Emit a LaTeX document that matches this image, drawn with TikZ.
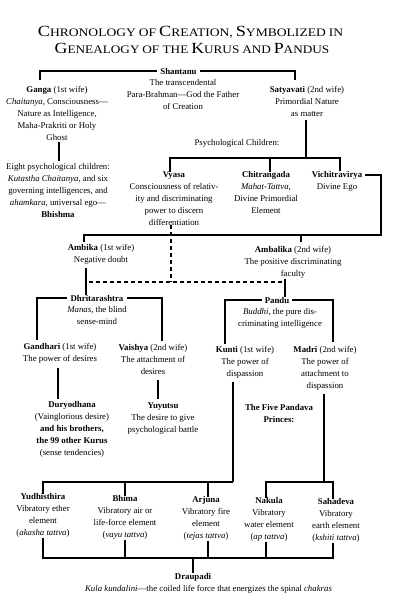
\documentclass[tikz,border=0pt]{standalone}
\usepackage{fontspec}
\setmainfont{Liberation Serif}
\usepackage{graphicx}
\newcommand\bigsc[2]{{\fontsize{15.5}{16}\selectfont #1}{\fontsize{11.5}{12}\selectfont #2}}
\newcommand\smsc[1]{{\fontsize{11.5}{12}\selectfont #1}}
\begin{document}
\begin{tikzpicture}[x=1pt,y=-1pt,
  txt/.style={align=center,inner sep=0pt,anchor=north,font=\fontsize{8.8}{11.9}\selectfont},
  nm/.style={inner xsep=3pt,inner ysep=0pt,anchor=center,font=\fontsize{8.8}{11.9}\selectfont\bfseries},
  ln/.style={line width=1.1pt},
  thk/.style={line width=2pt},
  dsh/.style={line width=1.1pt,dash pattern=on 4pt off 3pt}]
\useasboundingbox[fill=white] (0,0) rectangle (411,600);
% title
\node[inner sep=0pt] (title1) at (190.5,32) {\scalebox{1.18}[1]{\bigsc{C}{HRONOLOGY} \smsc{OF} \bigsc{C}{REATION,} \bigsc{S}{YMBOLIZED} \smsc{IN}}};
\node[inner sep=0pt] (title2) at (192,48) {\scalebox{1.15}[1]{\bigsc{G}{ENEALOGY} \smsc{OF THE} \bigsc{K}{URUS} \smsc{AND} \bigsc{P}{ANDUS}}};
% nodes
\node[nm] (shantanu) at (178.5,71) {Shantanu};
\node[txt] (shantd) at (183,79.5) {The transcendental\\Para-Brahman---God the Father\\of Creation};
\node[txt] (ganga) at (57,86.5) {\textbf{Ganga} (1st wife)\\\textit{Chaitanya}, Consciousness---\\Nature as Intelligence,\\Maha-Prakriti or Holy\\Ghost};
\node[txt] (satya) at (307,86.5) {\textbf{Satyavati} (2nd wife)\\Primordial Nature\\as matter};
\node[txt] (psych) at (237,139.5) {Psychological Children:};
\node[txt] (eight) at (58,163.5) {Eight psychological children:\\\textit{Kutastha Chaitanya}, and six\\governing intelligences, and\\\textit{ahamkara}, universal ego---\\\textbf{Bhishma}};
\node[txt] (vyasa) at (174,171.5) {\textbf{Vyasa}\\Consciousness of relativ-\\ity and discriminating\\power to discern\\differentiation};
\node[txt] (chitr) at (266,171.5) {\textbf{Chitrangada}\\\textit{Mahat-Tattva},\\Divine Primordial\\Element};
\node[nm] (vichi) at (337,175) {Vichitravirya};
\node[txt] (vichid) at (337,183.5) {Divine Ego};
\node[txt] (ambika) at (101,244.5) {\textbf{Ambika} (1st wife)\\Negative doubt};
\node[txt] (ambalika) at (293,246.5) {\textbf{Ambalika} (2nd wife)\\The positive discriminating\\faculty};
\node[nm] (dhrit) at (97,298) {Dhritarashtra};
\node[txt] (dhritd) at (97,306.5) {\textit{Manas}, the blind\\sense-mind};
\node[nm] (pandu) at (277,300) {Pandu};
\node[txt] (pandud) at (280,308.5) {\textit{Buddhi}, the pure dis-\\criminating intelligence};
\node[txt] (gandhari) at (60,343.5) {\textbf{Gandhari} (1st wife)\\The power of desires};
\node[txt] (vaishya) at (153,344.5) {\textbf{Vaishya} (2nd wife)\\The attachment of\\desires};
\node[txt] (kunti) at (245,346.5) {\textbf{Kunti} (1st wife)\\The power of\\dispassion};
\node[txt] (madri) at (325,346.5) {\textbf{Madri} (2nd wife)\\The power of\\attachment to\\dispassion};
\node[txt] (dury) at (72,401.5) {\textbf{Duryodhana}\\(Vainglorious desire)\\\textbf{and his brothers,}\\\textbf{the 99 other Kurus}\\(sense tendencies)};
\node[txt] (yuyutsu) at (163,402.5) {\textbf{Yuyutsu}\\The desire to give\\psychological battle};
\node[txt,font=\fontsize{8.8}{11.9}\selectfont\bfseries] (five) at (279,404.5) {The Five Pandava\\Princes:};
\node[txt] (yudh) at (43,493.5) {\textbf{Yudhisthira}\\Vibratory ether\\element\\(\textit{akasha tattva})};
\node[txt] (bhima) at (125,495.5) {\textbf{Bhima}\\Vibratory air or\\life-force element\\(\textit{vayu tattva})};
\node[txt] (arjuna) at (206,496.5) {\textbf{Arjuna}\\Vibratory fire\\element\\(\textit{tejas tattva})};
\node[txt] (nakula) at (269,497.5) {\textbf{Nakula}\\Vibratory\\water element\\(\textit{ap tattva})};
\node[txt] (sahadeva) at (336,498.5) {\textbf{Sahadeva}\\Vibratory\\earth element\\(\textit{kshiti tattva})};
\node[nm] (draupadi) at (193,577) {Draupadi};
\node[txt,anchor=center] (kula) at (208.5,589) {\textit{Kula kundalini}---the coiled life force that energizes the spinal \textit{chakras}};
% junction coordinates
\coordinate (gL) at (40,80);
\coordinate (sR) at (295,80);
\coordinate (pc) at (306,158);
\coordinate (vc) at (381,235);
\coordinate (kc) at (233,482);
\coordinate (mc) at (324,482);
\coordinate (dc) at (193,558);
\coordinate (ambT) at (84,242);
\coordinate (ambaT) at (301,242);
% connectors
\draw[ln] (shantanu.west) -| (gL);
\draw[ln] (shantanu.east) -| (sR);
\draw[thk,shorten <=1pt,shorten >=3pt] (ganga.south -| 59,0) -- (eight.north -| 59,0);
\draw[thk,shorten <=3pt] (satya.south -| 306,0) -- (pc);
\draw[ln] (vyasa.north -| 170,0) |- (pc) -| (vichi.north -| 340,0);
\draw[ln] (chitr.north -| 270,0) -- (270,158);
\draw[ln] (vichi.east) -| (vc) -- (84,235) -- (ambT);
\draw[ln] (ambaT) -- (301,235);
\draw[dsh] (vyasa.south -| 171,0) -- (171,282);
\draw[dsh] (89,282) -- (285,282);
\draw[ln,shorten <=3pt] (ambika.south -| 86,0) -- (dhrit.north -| 86,0);
\draw[ln] (ambalika.south -| 285,0) -- (pandu.north -| 285,0);
\draw[ln] (dhrit.west) -| (37,340);
\draw[ln] (dhrit.east) -| (162,341);
\draw[ln] (pandu.west) -| (225,344);
\draw[ln] (pandu.east) -| (333,342);
\draw[thk,shorten <=4pt,shorten >=3pt] (gandhari.south -| 58,0) -- (dury.north -| 58,0);
\draw[thk,shorten <=5pt,shorten >=4pt] (vaishya.south -| 158,0) -- (yuyutsu.north -| 158,0);
\draw[thk,shorten <=3pt] (kunti.south -| 233,0) -- (kc);
\draw[ln] (kc) -- (43,482) -- (yudh.north -| 43,0);
\draw[ln] (bhima.north -| 125,0) -- (125,482);
\draw[ln] (arjuna.north -| 208,0) -- (208,482);
\draw[thk,shorten <=3pt] (madri.south -| 324,0) -- (mc);
\draw[ln] (nakula.north -| 266,0) |- (mc) -| (sahadeva.north -| 333,0);
\draw[ln] (yudh.south -| 43,0) -- (43,558) -- (333,558) -- (sahadeva.south -| 333,0);
\draw[ln] (bhima.south -| 125,0) -- (125,558);
\draw[ln] (arjuna.south -| 208,0) -- (208,558);
\draw[ln] (nakula.south -| 266,0) -- (266,558);
\draw[ln] (dc) -- (draupadi.north -| 193,0);
\end{tikzpicture}
\end{document}
